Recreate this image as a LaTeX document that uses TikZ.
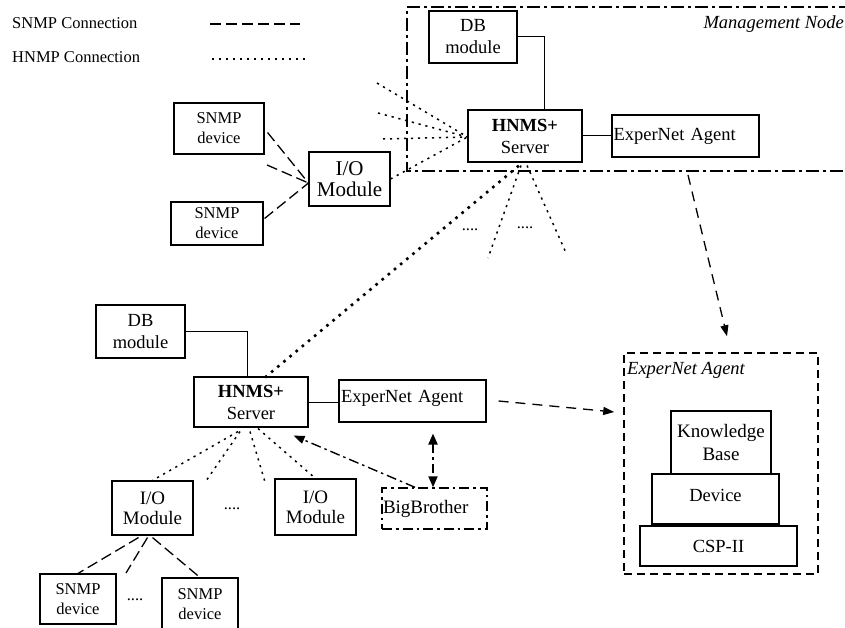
\documentclass[tikz,border=0pt]{standalone}
\usepackage{fontspec}
\setmainfont{Liberation Serif}
\usetikzlibrary{calc,arrows.meta}
\begin{document}
\begin{tikzpicture}[x=1pt,y=-1pt,
  box/.style={draw, line width=1.1pt, align=center, inner sep=0pt, font=\fontsize{18.5}{22}\selectfont},
  iobox/.style={box, font=\fontsize{19}{20}\selectfont},
  sbox/.style={box, font=\fontsize{16.5}{20}\selectfont},
  hnmp/.style={line width=1.5pt, dash pattern=on 2.2pt off 4.8pt},
  hnmpthick/.style={line width=2.6pt, dash pattern=on 2.6pt off 5.4pt},
  snmp/.style={line width=1.3pt, dash pattern=on 11pt off 5pt},
  longdash/.style={line width=1.3pt, dash pattern=on 10pt off 7pt},
  solidl/.style={line width=1pt},
  mgmtline/.style={line width=1.6pt, dash pattern=on 13pt off 4pt on 3pt off 4pt},
  bbline/.style={line width=1.4pt, dash pattern=on 10pt off 4pt on 2.5pt off 4pt},
  tip/.style={-{Triangle[length=11pt,width=8pt]}},
  lbl/.style={font=\fontsize{16.5}{20}\selectfont, inner sep=0pt},
]
\useasboundingbox (0,0) rectangle (845,628);

% legend
\node[lbl, anchor=west] (leg1) at (12,23) {SNMP Connection};
\node[lbl, anchor=west] (leg2) at (12,57) {HNMP Connection};
\coordinate (l1a) at (210,24); \coordinate (l1b) at (300,24);
\draw[snmp] (l1a) -- (l1b);
\coordinate (l2a) at (212,59); \coordinate (l2b) at (305,59);
\draw[hnmp] (l2a) -- (l2b);

% management node frame
\coordinate (mg1) at (852,7); \coordinate (mg2) at (407,7);
\coordinate (mg3) at (407,171); \coordinate (mg4) at (852,171);
\draw[mgmtline] (mg1) -- (mg2) -- (mg3) -- (mg4);
\node[font=\fontsize{18.5}{22}\selectfont\itshape, anchor=east, inner sep=0pt] (mgmtlbl) at (844,24) {Management Node};

% upper nodes
\node[box, minimum width=88pt, minimum height=52pt] (dbU) at (473,37) {DB\\module};
\node[box, minimum width=114pt, minimum height=52pt] (srvU) at (525,136) {\textbf{HNMS+}\\Server};
\node[box, minimum width=147pt, minimum height=42pt, text width=144pt, align=left] (agU) at (685.5,136) {ExperNet Agent};
\node[iobox, font=\fontsize{21}{21}\selectfont, minimum width=81pt, minimum height=54pt] (ioU) at (349.5,179) {I/O\\Module};
\node[sbox, minimum width=90pt, minimum height=51pt] (snU1) at (219,128.5) {SNMP\\device};
\node[sbox, minimum width=92pt, minimum height=43pt] (snU2) at (217,223.5) {SNMP\\device};

% upper connectors
\draw[solidl] (dbU.east) -| ($(srvU.north)+(19,0)$);
\draw[solidl] (srvU.east) -- (agU.west);
\coordinate (srvUin) at ($(srvU.west)+(0,1)$);
\coordinate (fa) at (377,83);
\coordinate (fb) at (378,113);
\coordinate (fc) at (383,139);
\draw[hnmp] (fa) -- (srvUin);
\draw[hnmp] (fb) -- (srvUin);
\draw[hnmp] (fc) -- (srvUin);
\draw[hnmp] (ioU.east) -- (srvUin);
\coordinate (ioUin) at ($(ioU.west)+(0,4)$);
\coordinate (sf) at (267,165);
\draw[snmp] ($(snU1.east)+(3,4)$) -- (ioUin);
\draw[snmp] (sf) -- (ioUin);
\draw[snmp] ($(snU2.east)+(1,-5)$) -- (ioUin);
\coordinate (fd) at (488,258);
\coordinate (fe) at (567,255);
\draw[hnmp] ($(srvU.south)+(-4,3)$) -- (fd);
\draw[hnmp] ($(srvU.south)+(2,3)$) -- (fe);
\node[lbl] (dots1) at (470,230) {....};
\node[lbl] (dots2) at (525,228) {....};

% lower nodes
\node[box, minimum width=89pt, minimum height=53pt] (dbL) at (140.5,331.5) {DB\\module};
\node[box, minimum width=114pt, minimum height=50pt] (srvL) at (251,402) {\textbf{HNMS+}\\Server};
\node[box, minimum width=147pt, minimum height=42pt, text width=143pt, align=left, text depth=10pt] (agL) at (412.5,401) {ExperNet Agent};
\node[iobox, minimum width=81pt, minimum height=54pt] (ioL1) at (152.5,508) {I/O\\Module};
\node[iobox, minimum width=81pt, minimum height=56pt] (ioL2) at (315.5,507) {I/O\\Module};
\node[draw, bbline, font=\fontsize{19}{22}\selectfont, minimum width=105pt, minimum height=41pt, text width=103pt, align=left, inner sep=0pt] (bb) at (434.5,508.5) {BigBrother};
\node[sbox, minimum width=76pt, minimum height=50pt] (snL1) at (78,599) {SNMP\\device};
\node[sbox, minimum width=76pt, minimum height=52pt] (snL2) at (200,604) {SNMP\\device};

% big dotted link between servers
\draw[hnmpthick] ($(srvL.north)+(14,1)$) -- ($(srvU.south)+(-6,3)$);

% ExperNet agent detail
\node[draw, line width=1.5pt, dash pattern=on 8pt off 5pt, minimum width=194pt, minimum height=221pt] (agBox) at (721,463.5) {};
\node[font=\fontsize{18.5}{22}\selectfont\itshape, anchor=west, inner sep=0pt] (agBoxlbl) at (627,370) {ExperNet Agent};
\node[box, font=\fontsize{19}{23}\selectfont, minimum width=100pt, minimum height=63pt] (kb) at (721,442.5) {Knowledge\\Base};
\node[box, minimum width=127pt, minimum height=50pt, text depth=8pt] (dev) at (715.5,499) {Device};
\node[box, minimum width=157pt, minimum height=40pt] (csp) at (718.5,546) {CSP-II};

% arrows to agent detail
\coordinate (mo) at (688,175);
\draw[longdash, tip] (mo) -- ($(agBox.north)+(6,-16)$);
\draw[longdash, tip] ($(agL.east)+(12,0)$) -- ($(agBox.west)+(-9,-51.5)$);

% lower connectors
\draw[solidl] (dbL.east) -| ($(srvL.north)+(-3.5,0)$);
\draw[solidl] (srvL.east) -- (srvL.east -| agL.west);
\draw[bbline, tip] ($(bb.north)+(-19.5,0)$) -- ($(srvL.south east)+(-15,8)$);
\draw[line width=2pt, dash pattern=on 9pt off 4pt on 2.5pt off 4pt, {Triangle[length=11pt,width=9pt]}-{Triangle[length=11pt,width=9pt]}] ($(agL.south)+(20.5,11)$) -- ($(bb.north)+(-1.5,0)$);

\coordinate (fg) at (206,481);
\coordinate (fh) at (265,482);
\draw[hnmp] ($(srvL.south)+(-13,4)$) -- (ioL1.north);
\draw[hnmp] ($(srvL.south)+(-11,4)$) -- (fg);
\draw[hnmp] ($(srvL.south)+(-1,4)$) -- (fh);
\draw[hnmp] ($(srvL.south)+(7,1)$) -- (ioL2.north);
\node[lbl] (dots3) at (232,509) {....};

\coordinate (fi) at (126,573);
\draw[snmp] ($(ioL1.south)+(-14,2)$) -- (snL1.north);
\draw[snmp] ($(ioL1.south)+(-5,2)$) -- (fi);
\draw[snmp] ($(ioL1.south)+(0,2)$) -- (snL2.north);
\node[lbl] (dots4) at (135,600) {....};
\end{tikzpicture}
\end{document}
